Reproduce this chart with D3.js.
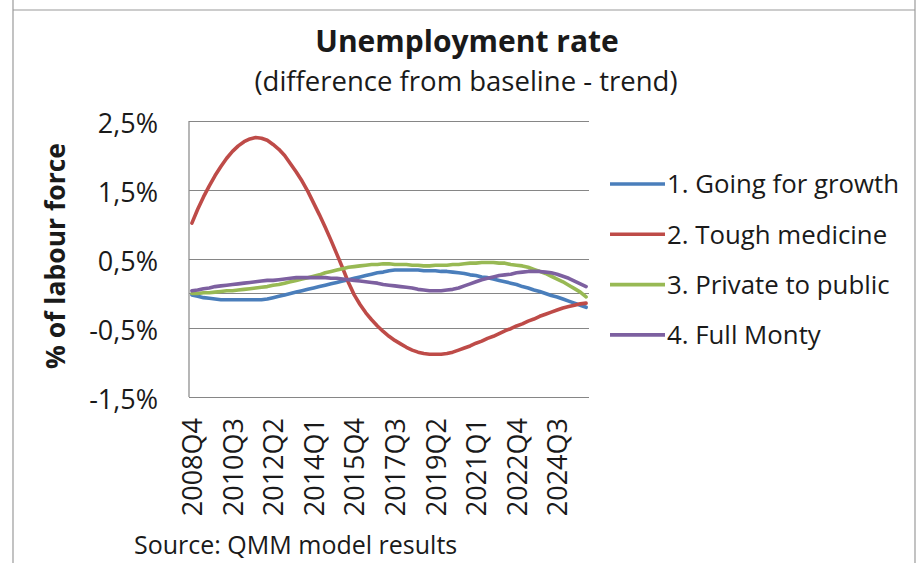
<!DOCTYPE html>
<html>
<head>
<meta charset="utf-8">
<script src="https://cdn.jsdelivr.net/npm/d3@7"></script>
<style>
  html, body { margin: 0; padding: 0; background: #ffffff; }
  svg { display: block; }
  text { font-family: "Open Sans", "Noto Sans", sans-serif; fill: #1a1a1a; }
</style>
</head>
<body>
<svg id="chart" width="922" height="563"></svg>
<script>
// Quarterly categories, 2008Q4 .. 2025Q4
const startYear = 2008, startQuarter = 4, nQuarters = 69;
const quarters = [];
for (let k = 0; k < nQuarters; k++) {
  const q = startQuarter - 1 + k;
  quarters.push((startYear + Math.floor(q / 4)) + "Q" + (q % 4 + 1));
}

const tickLabels = ["2008Q4", "2010Q3", "2012Q2", "2014Q1", "2015Q4",
                    "2017Q3", "2019Q2", "2021Q1", "2022Q4", "2024Q3"];

const yTicks = [2.5, 1.5, 0.5, -0.5, -1.5];

const seriesNames = ["1. Going for growth", "2. Tough medicine",
                     "3. Private to public", "4. Full Monty"];
const seriesColors = ["#4a7ebb", "#be4b48", "#98b954", "#7d60a0"];

// Difference from baseline, % of labour force
const goingForGrowth = [
  -0.02, -0.04, -0.06, -0.07, -0.08, -0.09, -0.09, -0.09, -0.09, -0.09,
  -0.09, -0.09, -0.09, -0.08, -0.06, -0.04, -0.02, 0.00, 0.02, 0.04,
  0.06, 0.08, 0.10, 0.12, 0.14, 0.16, 0.18, 0.20, 0.22, 0.24,
  0.26, 0.28, 0.30, 0.31, 0.33, 0.34, 0.34, 0.34, 0.34, 0.34,
  0.33, 0.33, 0.33, 0.32, 0.32, 0.31, 0.30, 0.29, 0.27, 0.26,
  0.24, 0.23, 0.21, 0.19, 0.17, 0.15, 0.13, 0.10, 0.08, 0.05,
  0.03, 0.00, -0.03, -0.05, -0.08, -0.11, -0.14, -0.17, -0.20
];
const toughMedicine = [
  1.02, 1.22, 1.40, 1.56, 1.71, 1.84, 1.96, 2.06, 2.14, 2.20,
  2.24, 2.26, 2.25, 2.22, 2.16, 2.09, 2.00, 1.88, 1.76, 1.63,
  1.48, 1.31, 1.14, 0.96, 0.77, 0.57, 0.37, 0.16, -0.02, -0.16,
  -0.28, -0.38, -0.47, -0.55, -0.62, -0.68, -0.73, -0.78, -0.82, -0.85,
  -0.87, -0.88, -0.88, -0.88, -0.87, -0.85, -0.82, -0.79, -0.76, -0.72,
  -0.69, -0.65, -0.62, -0.58, -0.54, -0.51, -0.47, -0.44, -0.40, -0.37,
  -0.33, -0.30, -0.27, -0.24, -0.21, -0.19, -0.17, -0.15, -0.14
];
const privateToPublic = [
  0.00, 0.00, 0.01, 0.01, 0.02, 0.03, 0.04, 0.04, 0.05, 0.06,
  0.07, 0.08, 0.09, 0.10, 0.12, 0.13, 0.15, 0.17, 0.19, 0.21,
  0.23, 0.25, 0.27, 0.30, 0.32, 0.34, 0.36, 0.38, 0.39, 0.40,
  0.41, 0.42, 0.42, 0.43, 0.43, 0.42, 0.42, 0.42, 0.41, 0.41,
  0.40, 0.40, 0.41, 0.41, 0.41, 0.42, 0.42, 0.43, 0.44, 0.44,
  0.45, 0.45, 0.45, 0.44, 0.44, 0.42, 0.41, 0.40, 0.38, 0.35,
  0.32, 0.29, 0.25, 0.21, 0.17, 0.12, 0.07, 0.02, -0.05
];
const fullMonty = [
  0.04, 0.05, 0.07, 0.08, 0.10, 0.11, 0.12, 0.13, 0.14, 0.15,
  0.16, 0.17, 0.18, 0.19, 0.19, 0.20, 0.21, 0.22, 0.23, 0.23,
  0.23, 0.23, 0.23, 0.23, 0.22, 0.22, 0.21, 0.20, 0.19, 0.18,
  0.17, 0.16, 0.15, 0.13, 0.12, 0.11, 0.10, 0.09, 0.08, 0.06,
  0.05, 0.04, 0.04, 0.04, 0.05, 0.06, 0.08, 0.11, 0.14, 0.17,
  0.20, 0.22, 0.24, 0.26, 0.27, 0.28, 0.30, 0.31, 0.32, 0.32,
  0.32, 0.31, 0.30, 0.28, 0.25, 0.22, 0.18, 0.14, 0.10
];

const seriesValues = [goingForGrowth, toughMedicine, privateToPublic, fullMonty];

const svg = d3.select("#chart");

// Outer frame of the chart object
const frame = svg.append("g").attr("fill", "none").attr("stroke", "#9a9a9a").attr("stroke-width", 1.2);
frame.append("line").attr("x1", 13).attr("x2", 915).attr("y1", 10).attr("y2", 10);
frame.append("line").attr("x1", 13).attr("x2", 13).attr("y1", 0).attr("y2", 563);
frame.append("line").attr("x1", 915).attr("x2", 915).attr("y1", 0).attr("y2", 563);

// Plot area
const plot = { left: 189, right: 589, top: 121, bottom: 397 };

const x = d3.scalePoint()
  .domain(quarters)
  .range([plot.left, plot.right])
  .padding(0.5);

const y = d3.scaleLinear()
  .domain([-1.5, 2.5])
  .range([plot.bottom, plot.top]);

// Percent labels with decimal comma and a plain hyphen for negatives
const pct = d => (d < 0 ? "-" : "") + Math.abs(d).toFixed(1).replace(".", ",") + "%";

// Horizontal gridlines and value labels
const yAxis = d3.axisLeft(y)
  .tickValues(yTicks)
  .tickSize(-(plot.right - plot.left))
  .tickPadding(31)
  .tickFormat(pct);

const yg = svg.append("g")
  .attr("transform", `translate(${plot.left},0)`)
  .call(yAxis);
yg.select(".domain").remove();
yg.selectAll(".tick line").attr("stroke", "#868686").attr("stroke-width", 1.2);
yg.selectAll(".tick text")
  .attr("font-size", 27)
  .attr("font-family", "'Open Sans', sans-serif")
  .attr("fill", "#1a1a1a")
  .attr("dy", "0.42em");

// Vertical value axis line
svg.append("line")
  .attr("x1", plot.left).attr("x2", plot.left)
  .attr("y1", plot.top).attr("y2", plot.bottom)
  .attr("stroke", "#868686").attr("stroke-width", 1.2);

// Category axis on the zero line
const xAxis = d3.axisBottom(x)
  .tickValues(tickLabels)
  .tickSize(0)
  .tickPadding(0);

const xg = svg.append("g")
  .attr("transform", `translate(0,${y(0)})`)
  .call(xAxis);
xg.select(".domain")
  .attr("stroke", "#868686").attr("stroke-width", 1.2)
  .attr("d", `M${plot.left},0H${plot.right}`);
xg.selectAll(".tick text")
  .attr("font-size", 27)
  .attr("font-family", "'Open Sans', sans-serif")
  .attr("fill", "#1a1a1a")
  .attr("text-anchor", "end")
  .attr("transform", `translate(0,${418 - y(0)}) rotate(-90)`)
  .attr("x", 0)
  .attr("y", 0)
  .attr("dy", "0.36em");

// Series lines
const line = d3.line()
  .x((d, i) => x(quarters[i]))
  .y(d => y(d));

svg.append("g")
  .selectAll("path")
  .data(seriesValues)
  .join("path")
  .attr("d", line)
  .attr("fill", "none")
  .attr("stroke", (d, i) => seriesColors[i])
  .attr("stroke-width", 3.6)
  .attr("stroke-linejoin", "round")
  .attr("stroke-linecap", "round");

// Titles
svg.append("text")
  .attr("x", 467).attr("y", 52)
  .attr("text-anchor", "middle")
  .attr("font-size", 30)
  .attr("font-weight", "bold")
  .text("Unemployment rate");

svg.append("text")
  .attr("x", 466).attr("y", 91)
  .attr("text-anchor", "middle")
  .attr("font-size", 27.5)
  .text("(difference from baseline - trend)");

svg.append("text")
  .attr("transform", "translate(65,256) rotate(-90)")
  .attr("text-anchor", "middle")
  .attr("font-size", 26.5)
  .attr("font-weight", "bold")
  .text("% of labour force");

// Legend
const legend = svg.append("g").attr("transform", "translate(610,184)");
const items = legend.selectAll("g")
  .data(seriesNames)
  .join("g")
  .attr("transform", (d, i) => `translate(0,${i * 50.3})`);
items.append("line")
  .attr("x1", 0).attr("x2", 55)
  .attr("y1", 0).attr("y2", 0)
  .attr("stroke", (d, i) => seriesColors[i])
  .attr("stroke-width", 3.6);
items.append("text")
  .attr("x", 57).attr("y", 0)
  .attr("dy", "0.36em")
  .attr("font-size", 25.8)
  .text(d => d);

// Source note
svg.append("text")
  .attr("x", 134).attr("y", 554)
  .attr("font-size", 25)
  .text("Source: QMM model results");
</script>
</body>
</html>
